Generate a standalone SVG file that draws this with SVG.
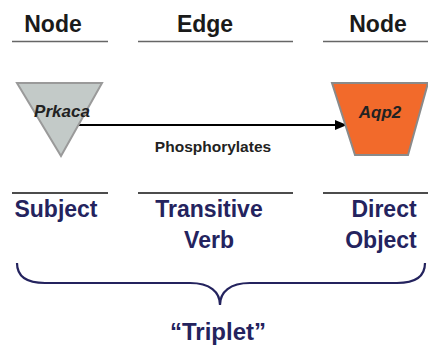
<svg xmlns="http://www.w3.org/2000/svg" width="428" height="346" viewBox="0 0 428 346">
<defs>
<style>
.hdr{font-family:"Liberation Sans",Arial,sans-serif;font-weight:bold;font-size:23px;fill:#1a1a1a;text-anchor:middle}
.role{font-family:"Liberation Sans",Arial,sans-serif;font-weight:bold;font-size:23px;fill:#24235e;text-anchor:middle}
.nl{font-family:"Liberation Sans",Arial,sans-serif;font-weight:bold;font-style:italic;font-size:17px;fill:#222;text-anchor:middle}
.el{font-family:"Liberation Sans",Arial,sans-serif;font-weight:bold;font-size:15.5px;fill:#222;text-anchor:middle}
.ul{stroke:#666;stroke-width:1.6}
.ll{stroke:#111;stroke-width:1.6}
</style>
<marker id="ah" markerWidth="12" markerHeight="10" refX="12" refY="5" orient="auto" markerUnits="userSpaceOnUse">
<path d="M0,0 L12,5 L0,10 Z" fill="#000"/>
</marker>
</defs>
<g id="headers">
<text class="hdr" x="53" y="32">Node</text>
<text class="hdr" x="205" y="32">Edge</text>
<text class="hdr" x="378" y="32">Node</text>
<line class="ul" x1="12" y1="41.5" x2="108" y2="41.5"/>
<line class="ul" x1="138" y1="41.5" x2="293" y2="41.5"/>
<line class="ul" x1="323" y1="41.5" x2="428" y2="41.5"/>
</g>
<g id="connectors">
<line x1="78" y1="125" x2="347" y2="125" stroke="#000" stroke-width="2" marker-end="url(#ah)"/>
<text class="el" x="213" y="152">Phosphorylates</text>
</g>
<g id="node-prkaca">
<polygon points="17,83 102,83 61,156" fill="#c3cac8" stroke="#9a9a9a" stroke-width="2"/>
<text class="nl" x="62" y="117">Prkaca</text>
</g>
<g id="node-aqp2">
<polygon points="332,83 428,83 408,155 355,155" fill="#f26a2b" stroke="#8a8a8a" stroke-width="2"/>
<text class="nl" x="380" y="118">Aqp2</text>
</g>
<g id="roles">
<line class="ll" x1="12" y1="193" x2="108" y2="193"/>
<line class="ll" x1="138" y1="193" x2="293" y2="193"/>
<line class="ll" x1="323" y1="193" x2="428" y2="193"/>
<text class="role" x="56" y="217">Subject</text>
<text class="role" x="209" y="217">Transitive</text>
<text class="role" x="209" y="248">Verb</text>
<text class="role" x="384" y="217">Direct</text>
<text class="role" x="381" y="248">Object</text>
</g>
<g id="brace">
<path d="M17,263 C17,278 28,283 45,283 L190,283 C210,283 220,292 220,305 C220,292 230,283 250,283 L397,283 C414,283 425,278 425,263" fill="none" stroke="#24235e" stroke-width="2.2"/>
<text class="role" x="218" y="340" style="font-size:24px">“Triplet”</text>
</g>
</svg>
